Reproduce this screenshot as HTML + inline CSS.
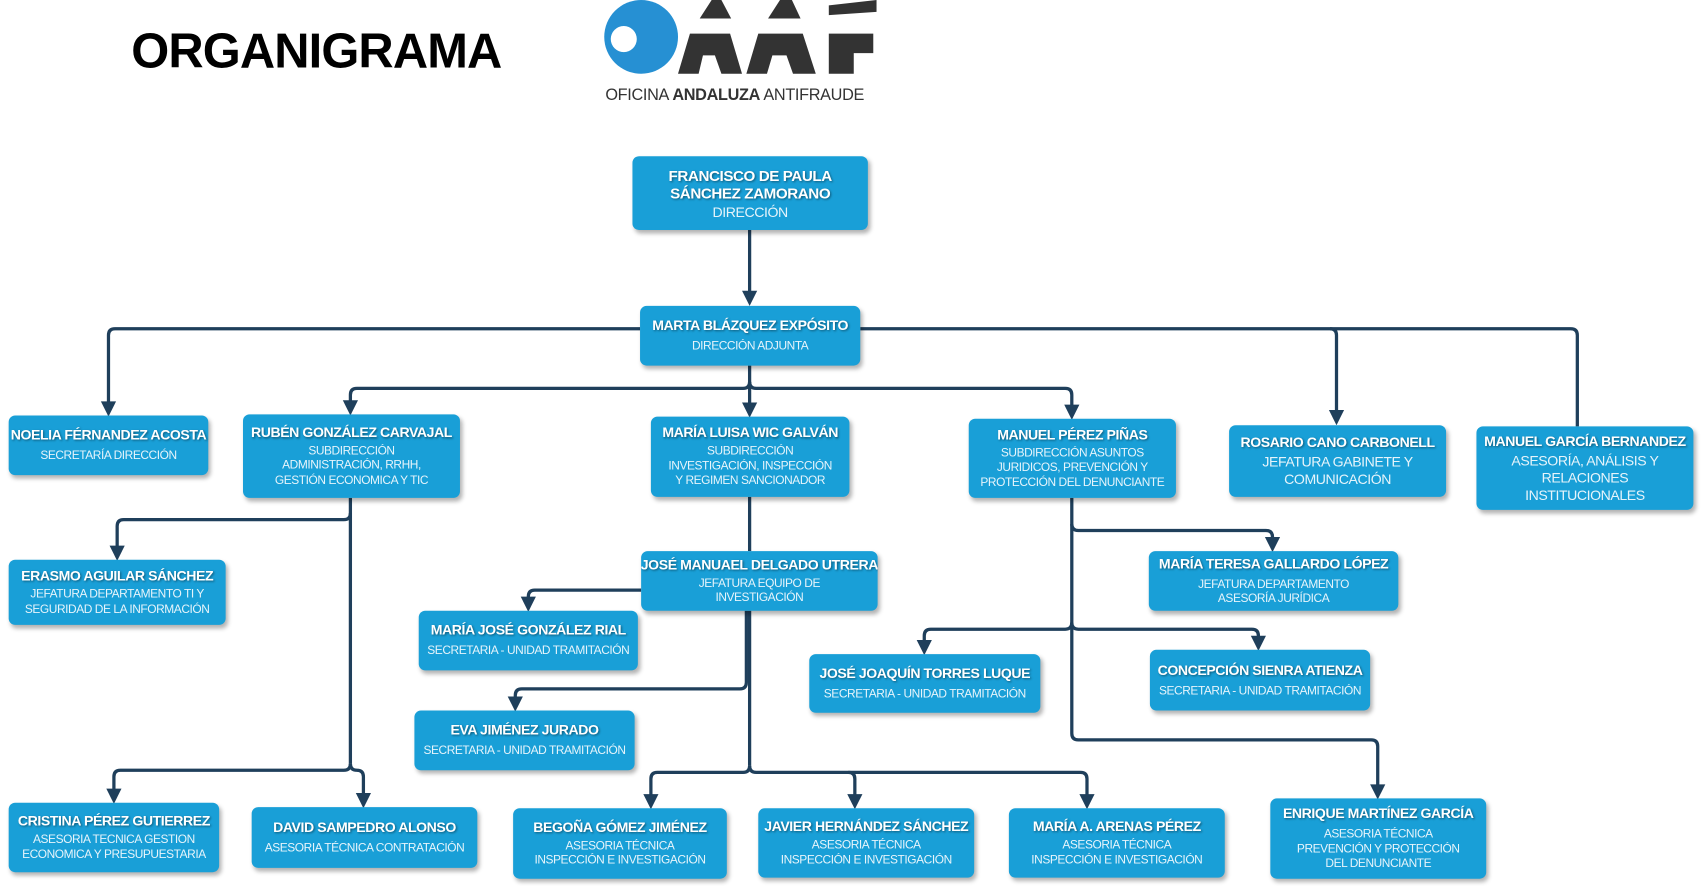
<!DOCTYPE html>
<html><head><meta charset="utf-8">
<style>
html,body{margin:0;padding:0;background:#fff;width:1701px;height:886px;overflow:hidden}
#c{position:absolute;left:0;top:0;width:1568px;height:817px;transform:scale(1.08482);transform-origin:0 0;font-family:"Liberation Sans",Arial,sans-serif}
.b{position:absolute;background:#199fd7;border-radius:6px;box-shadow:2px 3px 4px rgba(0,0,0,.3);color:#fff;text-align:center;display:flex;flex-direction:column;justify-content:center;align-items:center;overflow:hidden}
.n{font-weight:bold;font-size:13px;letter-spacing:-0.4px;text-shadow:1px 1px 2px rgba(0,0,0,.45);white-space:nowrap;line-height:16px}
.s{font-size:11px;letter-spacing:-0.4px;line-height:13.5px;color:#e6f4fb;margin-top:3px;white-space:nowrap}
.s2{font-size:13px;letter-spacing:-0.4px;line-height:16px;color:#e6f4fb;margin-top:2px;white-space:nowrap}
svg{position:absolute;left:0;top:0}
</style></head><body><div id="c">
<div style="position:absolute;left:121px;top:21px;font-size:45px;font-weight:bold;letter-spacing:-0.8px;color:#000">ORGANIGRAMA</div>
<svg width="1568" height="817">
<circle cx="591" cy="34" r="34" fill="#2690d3"/>
<circle cx="575" cy="36" r="12" fill="#fff"/>
<g fill="#333">
<polygon points="625,68 636,31 673,31 684,68 665,68 659,51 648,51 644,68"/>
<polygon points="645,17 656,0 665,0 674,17"/>
<polygon points="688,68 699,31 740,31 752,68 731,68 725,51 712,51 707,68"/>
<polygon points="708,17 719,0 730,0 738,17"/>
<polygon points="764,68 764,31 805,31 805,49 787,49 787,68"/>
<polygon points="764,5 808,0 808,11 764,14"/>
</g>
<text x="558" y="92" font-size="15" fill="#333" font-family="Liberation Sans,sans-serif" letter-spacing="-0.3">OFICINA <tspan font-weight="bold">ANDALUZA</tspan> ANTIFRAUDE</text>
<g fill="none" stroke="#1f3f5b" stroke-width="3" stroke-linejoin="round">
<path d="M691 212V270"/>
<path d="M590 303H106Q100 303 100 309V372"/>
<path d="M793 303H1448Q1454 303 1454 309V393"/>
<path d="M1226 303Q1232 303 1232 309V380"/>
<path d="M691 337V352Q691 358 685 358H329Q323 358 323 364V371"/>
<path d="M691 352V373"/>
<path d="M691 352Q691 358 697 358H982Q988 358 988 364V375"/>
<path d="M323 459V704"/>
<path d="M323 473Q323 479 317 479H114Q108 479 108 485V505"/>
<path d="M323 704Q323 710 317 710H111Q105 710 105 716V729"/>
<path d="M323 704Q323 710 329 710Q335 710 335 716V733"/>
<path d="M691 458V508"/>
<path d="M691 563V706"/>
<path d="M591 544H493Q487 544 487 550V552"/>
<path d="M688 563V629Q688 635 682 635H481Q475 635 475 641V644"/>
<path d="M691 706Q691 712 685 712H606Q600 712 600 718V734"/>
<path d="M691 706Q691 712 697 712H782Q788 712 788 718V734"/>
<path d="M782 712H996Q1002 712 1002 718V734"/>
<path d="M988 459V676Q988 682 994 682H1264Q1270 682 1270 688V725"/>
<path d="M988 483Q988 489 994 489H1167Q1173 489 1173 495V497"/>
<path d="M988 574Q988 580 982 580H858Q852 580 852 586V592"/>
<path d="M988 574Q988 580 994 580H1154Q1160 580 1160 586V588"/>
</g>
<g fill="#1f3f5b">
<polygon points="684,268 698,268 691,282"/>
<polygon points="93,370 107,370 100,384"/>
<polygon points="1225,378 1239,378 1232,392"/>
<polygon points="316,369 330,369 323,383"/>
<polygon points="684,371 698,371 691,385"/>
<polygon points="981,373 995,373 988,387"/>
<polygon points="101,503 115,503 108,517"/>
<polygon points="98,727 112,727 105,741"/>
<polygon points="328,731 342,731 335,745"/>
<polygon points="480,550 494,550 487,564"/>
<polygon points="468,642 482,642 475,656"/>
<polygon points="593,732 607,732 600,746"/>
<polygon points="781,732 795,732 788,746"/>
<polygon points="995,732 1009,732 1002,746"/>
<polygon points="1263,723 1277,723 1270,737"/>
<polygon points="1166,495 1180,495 1173,509"/>
<polygon points="845,590 859,590 852,604"/>
<polygon points="1153,586 1167,586 1160,600"/>
</g>
</svg>
<div class="b" style="left:583px;top:144px;width:217px;height:68px"><div class="n" style="font-size:14px">FRANCISCO DE PAULA<br>SÁNCHEZ ZAMORANO</div><div class="s" style="font-size:13px">DIRECCIÓN</div></div>
<div class="b" style="left:590px;top:282px;width:203px;height:55px"><div class="n">MARTA BLÁZQUEZ EXPÓSITO</div><div class="s" style="margin-top:5px">DIRECCIÓN ADJUNTA</div></div>
<div class="b" style="left:8px;top:383px;width:184px;height:55px"><div class="n">NOELIA FÉRNANDEZ ACOSTA</div><div class="s" style="margin-top:5px">SECRETARÍA DIRECCIÓN</div></div>
<div class="b" style="left:224px;top:382px;width:200px;height:77px"><div class="n">RUBÉN GONZÁLEZ CARVAJAL</div><div class="s">SUBDIRECCIÓN<br>ADMINISTRACIÓN, RRHH,<br>GESTIÓN ECONOMICA Y TIC</div></div>
<div class="b" style="left:600px;top:384px;width:183px;height:74px"><div class="n">MARÍA LUISA WIC GALVÁN</div><div class="s">SUBDIRECCIÓN<br>INVESTIGACIÓN, INSPECCIÓN<br>Y REGIMEN SANCIONADOR</div></div>
<div class="b" style="left:893px;top:386px;width:191px;height:73px"><div class="n">MANUEL PÉREZ PIÑAS</div><div class="s">SUBDIRECCIÓN ASUNTOS<br>JURIDICOS, PREVENCIÓN Y<br>PROTECCIÓN DEL DENUNCIANTE</div></div>
<div class="b" style="left:1133px;top:392px;width:200px;height:66px"><div class="n">ROSARIO CANO CARBONELL</div><div class="s2">JEFATURA GABINETE Y<br>COMUNICACIÓN</div></div>
<div class="b" style="left:1361px;top:393px;width:200px;height:77px"><div class="n">MANUEL GARCÍA BERNANDEZ</div><div class="s2">ASESORÍA, ANÁLISIS Y<br>RELACIONES<br>INSTITUCIONALES</div></div>
<div class="b" style="left:8px;top:516px;width:200px;height:60px"><div class="n">ERASMO AGUILAR SÁNCHEZ</div><div class="s">JEFATURA DEPARTAMENTO TI Y<br>SEGURIDAD DE LA INFORMACIÓN</div></div>
<div class="b" style="left:591px;top:508px;width:218px;height:55px"><div class="n">JOSÉ MANUAEL DELGADO UTRERA</div><div class="s">JEFATURA EQUIPO DE<br>INVESTIGACIÓN</div></div>
<div class="b" style="left:1059px;top:508px;width:230px;height:55px"><div class="n">MARÍA TERESA GALLARDO LÓPEZ</div><div class="s" style="margin-top:5px">JEFATURA DEPARTAMENTO<br>ASESORÍA JURÍDICA</div></div>
<div class="b" style="left:386px;top:563px;width:202px;height:55px"><div class="n">MARÍA JOSÉ GONZÁLEZ RIAL</div><div class="s" style="margin-top:5px">SECRETARIA - UNIDAD TRAMITACIÓN</div></div>
<div class="b" style="left:746px;top:603px;width:213px;height:54px"><div class="n">JOSÉ JOAQUÍN TORRES LUQUE</div><div class="s" style="margin-top:5px">SECRETARIA - UNIDAD TRAMITACIÓN</div></div>
<div class="b" style="left:1060px;top:599px;width:203px;height:56px"><div class="n">CONCEPCIÓN SIENRA ATIENZA</div><div class="s" style="margin-top:5px">SECRETARIA - UNIDAD TRAMITACIÓN</div></div>
<div class="b" style="left:382px;top:655px;width:203px;height:55px"><div class="n">EVA JIMÉNEZ JURADO</div><div class="s" style="margin-top:5px">SECRETARIA - UNIDAD TRAMITACIÓN</div></div>
<div class="b" style="left:8px;top:740px;width:194px;height:64px"><div class="n">CRISTINA PÉREZ GUTIERREZ</div><div class="s">ASESORIA TECNICA GESTION<br>ECONOMICA Y PRESUPUESTARIA</div></div>
<div class="b" style="left:232px;top:744px;width:208px;height:56px"><div class="n">DAVID SAMPEDRO ALONSO</div><div class="s" style="margin-top:5px">ASESORIA TÉCNICA CONTRATACIÓN</div></div>
<div class="b" style="left:473px;top:745px;width:197px;height:65px"><div class="n">BEGOÑA GÓMEZ JIMÉNEZ</div><div class="s">ASESORIA TÉCNICA<br>INSPECCIÓN E INVESTIGACIÓN</div></div>
<div class="b" style="left:699px;top:745px;width:199px;height:64px"><div class="n">JAVIER HERNÁNDEZ SÁNCHEZ</div><div class="s">ASESORIA TÉCNICA<br>INSPECCIÓN E INVESTIGACIÓN</div></div>
<div class="b" style="left:930px;top:745px;width:199px;height:64px"><div class="n">MARÍA A. ARENAS PÉREZ</div><div class="s">ASESORIA TÉCNICA<br>INSPECCIÓN E INVESTIGACIÓN</div></div>
<div class="b" style="left:1171px;top:736px;width:199px;height:74px"><div class="n">ENRIQUE MARTÍNEZ GARCÍA</div><div class="s" style="margin-top:5px">ASESORIA TÉCNICA<br>PREVENCIÓN Y PROTECCIÓN<br>DEL DENUNCIANTE</div></div>
</div></body></html>
